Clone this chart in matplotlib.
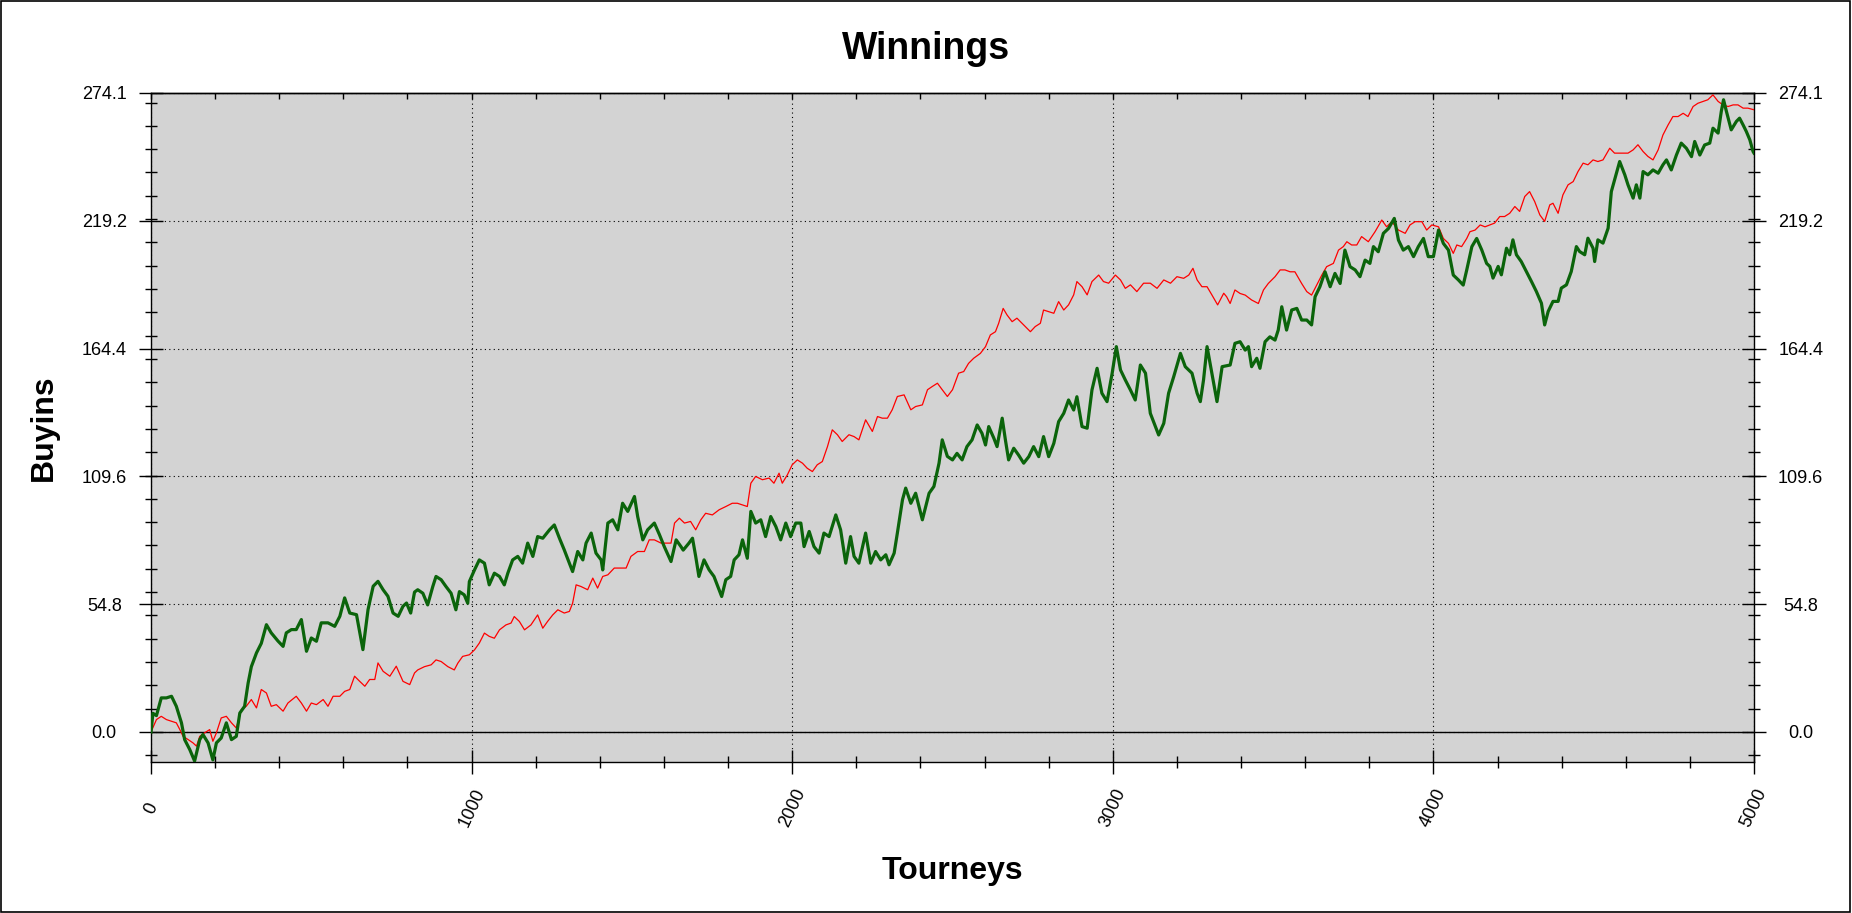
import matplotlib
matplotlib.use('Agg')
import matplotlib.pyplot as plt
from matplotlib.ticker import MultipleLocator
from matplotlib.patches import Rectangle

plt.rcParams['font.family'] = ['Liberation Sans', 'DejaVu Sans']

# ---- data ----
green_t = [0, 6, 17, 32, 48, 64, 79, 95, 105, 121, 136, 152, 162, 178, 193, 204, 219, 235, 251, 266,
           277, 292, 303, 313, 329, 344, 360, 375, 396, 412, 422, 438, 453, 469, 485, 500, 516, 531,
           552, 573, 589, 604, 620, 641, 661, 677, 693, 708, 724, 739, 755, 771, 786, 797, 810, 822,
           832, 848, 863, 879, 889, 905, 920, 936, 951, 962, 977, 988, 993, 1009, 1024, 1040, 1055,
           1071, 1087, 1102, 1113, 1128, 1144, 1159, 1175, 1191, 1206, 1222, 1243, 1258, 1274, 1289,
           1305, 1315, 1331, 1347, 1357, 1373, 1388, 1404, 1409, 1425, 1440, 1456, 1471, 1487, 1508,
           1518, 1534, 1549, 1570, 1586, 1601, 1622, 1638, 1653, 1660,
           1678, 1689, 1699, 1709, 1725, 1741, 1756, 1772, 1780, 1793, 1808, 1819, 1834, 1845, 1860,
           1871, 1886, 1902, 1917, 1933, 1949, 1964, 1980, 1995, 2011, 2027, 2037, 2053, 2068, 2084,
           2099, 2115, 2136, 2151, 2167, 2182, 2193, 2208, 2229, 2245, 2260, 2276, 2292, 2302, 2318,
           2328, 2344, 2354, 2370, 2385, 2406, 2427, 2442, 2458, 2468, 2484, 2500,
           2514, 2530, 2545, 2561, 2577, 2592, 2603, 2613, 2629, 2639, 2655, 2665, 2675, 2691, 2706,
           2722, 2738, 2753, 2769, 2784, 2800, 2816, 2831, 2847, 2862, 2878, 2888, 2904, 2920, 2935,
           2951, 2966, 2982, 2998, 3011, 3024, 3039, 3055, 3070, 3086, 3102, 3117, 3133, 3143, 3159,
           3174, 3190, 3211, 3226, 3247, 3263, 3273, 3283, 3294, 3309, 3325, 3341,
           3366, 3381, 3397, 3413, 3423, 3433, 3449, 3459, 3475, 3490, 3506, 3516, 3527, 3542, 3558,
           3574, 3589, 3605, 3620, 3631, 3646, 3662, 3678, 3693, 3709, 3724, 3740, 3756, 3771, 3787,
           3802, 3813, 3828, 3844, 3860, 3878, 3891, 3906, 3922, 3938, 3953, 3969, 3984, 4000, 4016,
           4031, 4047, 4062, 4078, 4093, 4104, 4120, 4135, 4151, 4166,
           4176, 4186, 4202, 4212, 4228, 4238, 4248, 4259, 4274, 4290, 4306, 4321, 4337, 4347, 4358,
           4373, 4389, 4399, 4415, 4430, 4446, 4456, 4472, 4482, 4498, 4503, 4513, 4529, 4545, 4555,
           4571, 4581, 4597, 4607, 4623, 4633, 4644, 4654, 4669, 4685, 4701, 4716, 4727, 4742, 4758,
           4773, 4789, 4805, 4815, 4831, 4846, 4862, 4872, 4888, 4898, 4905, 4914, 4929, 4945, 4955,
           4966, 4976, 4987, 4997, 5000]
green_v = [0, 8, 7, 14.6, 14.6, 15.3, 11, 3.9, -3.3, -7.6, -12.5, -3.3, -1.1, -4.7, -12.0, -4.7, -2.6, 3.9, -3.3, -1.9,
           8.1, 11, 21, 28, 33.9, 38, 46, 42.5, 39, 36.7, 42.5, 43.9, 43.9, 48.2, 34.6, 40.3, 38.9, 46.8,
           46.8, 45.3, 49.6, 57.5, 51, 50.3, 35.3, 52.5, 62.5, 64.6, 61, 58.2, 51, 49.6, 53.9, 55.3, 51, 60,
           61, 59.5, 54.5, 62.4, 66.7, 65.3, 62.4, 59.5, 52.4, 60.2, 58.8, 55.2, 64.5, 69.5, 73.8, 72.4, 63.1,
           68.1, 66.7, 63.1, 68.1, 73.8, 75.3, 72.4, 81, 75.3, 83.8, 83.1, 86.7, 88.8, 83.1, 78.1,
           72.4, 68.8, 77.4, 73.8, 81, 85.3, 76.7, 73.8, 69.5, 89.6, 91, 86.7, 98.1, 94.6, 101,
           92.4, 82.4, 86.7, 89.6, 84.6, 79.5, 73.1, 82.4, 79.5, 78,
           81, 83.1, 75.3, 66.7, 73.8, 69.5, 66.7, 61, 58.1, 65.3, 66.7, 73.8, 76, 82.4, 74.5,
           94.6, 89.6, 91, 83.8, 92.4, 88.1, 82.4, 89.6, 83.8, 89.6, 89.6, 79.5, 86, 79.5, 76.7,
           85.3, 83.8, 93.1, 86.7, 72.4, 83.8, 75.3, 72.4, 85.3, 72.4, 77.4, 73.8, 76, 71.7, 76.7,
           85.3, 99.6, 104.6, 98.1, 102.4, 91, 102.4, 105.3, 115.3, 125.3, 118.2, 116.7,
           119.5, 116.7, 122.4, 125.3, 131.7, 128.1, 123.1, 131, 126, 122.4, 134.6, 125.3, 116.7, 121.7, 118.8,
           115.3, 118.1, 122.4, 118.1, 126.7, 118.1, 123.8, 133.1, 136.7, 142.4, 138.1, 143.8, 131, 130.3, 146.7,
           156, 145.3, 141.7, 153.9, 165.3, 155.3, 151, 146.7, 142.4, 157.4, 153.9, 136.7, 131, 127.4, 132.4,
           145.3, 152.4, 162.4, 156.7, 153.9, 145.3, 141.7, 151, 165.3, 153.9, 141.7, 156.7,
           157.4, 166.7, 167.4, 163.8, 165.3, 156.7, 160.3, 156, 167.4, 169.5, 168.1, 172.4, 182.4, 172.4, 181,
           181.7, 176.7, 176.7, 174.6, 186.7, 191, 197.4, 191, 196.7, 192.4, 206.7, 199.6, 198.2, 195.3, 202.4,
           201, 208.2, 206, 213.9, 216, 220.3, 211, 206.7, 208.2, 203.9, 208.2, 211.7, 203.9, 203.9, 215.3,
           209.6, 206.7, 196, 193.9, 191.7, 198.2, 208.2, 211.7, 206.7, 201,
           199.7, 194.7, 199.7, 196.1, 207.5, 204.7, 211.1, 204.7, 201.8, 197.5, 193.2, 189, 183.9, 174.6, 180.4,
           184.7, 184.7, 190.4, 191.8, 197.5, 208.2, 206.1, 204.7, 211.8, 207.5, 201.8, 211.1, 209.7, 216.1, 231.8,
           239.7, 244.7, 239, 234.7, 229, 234.7, 229, 240.4, 239, 241.1, 239.7, 243.3, 245.4, 241.1, 247.5,
           252.6, 250.4, 246.8, 253.3, 247.5, 251.8, 252.6, 259, 256.9, 266.2, 271.2, 266.2, 258.3, 261.9, 263.3,
           260.4, 257.6, 254, 249, 248.3]

red_t = [0, 17, 32, 48, 64, 79, 90, 100, 116, 131, 142, 152, 167, 183, 193, 204, 219, 235, 251, 266,
         282, 297, 313, 329, 344, 360, 375, 391, 412, 427, 453, 469, 485, 500, 516, 537, 552, 568, 589,
         604, 620, 635, 651, 667, 682, 698, 708, 724, 745, 765, 786, 807, 822,
         832, 853, 874, 889, 905, 926, 946, 957, 972, 993, 1009, 1024, 1040, 1055, 1071, 1087, 1107,
         1123, 1133, 1149, 1165, 1185, 1206, 1222, 1237, 1253, 1269, 1289, 1305, 1315, 1326, 1341, 1362,
         1378, 1393, 1409, 1425, 1445, 1466, 1482, 1497, 1518, 1539, 1554, 1570, 1591, 1606, 1622, 1633,
         1648, 1664,
         1683, 1699, 1715, 1730, 1751, 1772, 1793, 1813, 1829, 1845, 1860, 1871, 1886, 1907, 1928, 1943,
         1959, 1969, 1985, 2000, 2016, 2032, 2047, 2063, 2078, 2094, 2110, 2125, 2141, 2156, 2177, 2193,
         2208, 2229, 2250, 2266, 2281, 2297, 2312, 2328, 2349, 2370, 2385, 2406, 2422, 2437, 2453, 2468,
         2484, 2500,
         2519, 2535, 2550, 2566, 2587, 2603, 2618, 2634, 2644, 2658, 2670, 2686, 2701, 2717, 2732, 2743,
         2758, 2774, 2784, 2800, 2816, 2831, 2847, 2862, 2878, 2888, 2904, 2920, 2935, 2956, 2971, 2987,
         3008, 3024, 3039, 3055, 3075, 3096, 3117, 3138, 3159, 3180, 3200, 3221, 3237, 3250, 3263, 3278,
         3294, 3309, 3327, 3346,
         3355, 3366, 3381, 3397, 3413, 3433, 3454, 3470, 3485, 3506, 3522, 3537, 3553, 3568, 3589, 3605,
         3620, 3636, 3652, 3667, 3688, 3704, 3719, 3730, 3745, 3761, 3776, 3797, 3818, 3839, 3854, 3870,
         3891, 3912, 3927, 3943, 3964, 3979, 3995, 4016, 4031, 4047, 4062, 4073, 4088, 4104, 4114, 4130,
         4146, 4161,
         4176, 4191, 4207, 4222, 4238, 4254, 4269, 4285, 4300, 4316, 4332, 4347, 4363, 4373, 4389, 4404,
         4420, 4436, 4451, 4467, 4482, 4498, 4513, 4529, 4550, 4565, 4586, 4607, 4623, 4638, 4654, 4669,
         4685, 4701, 4716, 4732, 4747, 4763, 4779, 4794, 4810, 4825, 4841, 4856, 4872, 4888, 4903, 4919,
         4935, 4950, 4966, 4981, 5000]
red_v = [0, 5.3, 6.7, 5.3, 4.6, 3.9, 1, -1.9, -3.3, -4.7, -6.1, -1.9, -0.4, 1, -4, -0.4, 6, 6.7, 3.9, 1.7,
         9.6, 11, 13.9, 10.3, 18.2, 16.7, 11, 11.7, 8.9, 12.4, 15.3, 12.4, 8.9, 12.4, 11.7, 13.9, 11, 15.3, 15.3,
         17.4, 18.2, 23.9, 21.7, 19.6, 22.5, 22.5, 29.6, 26, 23.9, 28.2, 21.7, 20.3, 25.3,
         26.6, 28, 28.8, 30.9, 30.2, 28, 26.6, 29.5, 32.4, 33.1, 35.2, 38.1, 42.4, 41, 40.2, 43.8, 45.9,
         46.7, 49.5, 47.4, 43.8, 45.9, 50.2, 44.5, 47.4, 50.2, 52.4, 51, 51.7, 55.2, 63.1, 62.4, 61,
         66, 61.7, 66.7, 67.4, 70.3, 70.3, 70.3, 75.3, 77.4, 77.4, 82.4, 82.4, 81, 81, 81, 89.6,
         91.7, 89.6,
         90.3, 86.7, 91, 93.8, 93.1, 95.3, 96.7, 98.1, 98.1, 97.4, 96.7, 106.7, 109.6, 108.2, 108.9, 106.7,
         111, 106.7, 110.3, 114.6, 116.7, 115.3, 113.1, 111.7, 114.6, 116, 122.4, 129.6, 127.5, 124.6, 127.5, 126.7,
         125.3, 133.9, 128.9, 135.3, 134.6, 134.6, 138.2, 143.9, 144.6, 138.2, 139.6, 140.3, 146.8, 148.2, 149.6, 146.8,
         143.9, 146.8,
         153.9, 154.6, 158.1, 160.3, 162.4, 165.3, 170.3, 171.7, 175.3, 181.7, 178.9, 176, 177.5, 175.3, 173.2, 171.7,
         173.9, 175.3, 181, 180.3, 179.6, 184.6, 181, 183.2, 187.5, 193.2, 191, 187.5, 193.2, 196, 193.2, 192.5,
         196, 193.9, 190.3, 191.8, 188.9, 192.5, 192.5, 190.3, 193.9, 192.5, 195.3, 194.6, 196, 198.9, 193.9, 191,
         191, 187.5, 183.2, 188.2,
         186.7, 183.8, 189.6, 188.1, 187.4, 185.3, 183.8, 189.6, 192.4, 195.3, 198.2, 198.2, 197.4, 197.4, 192.4, 188.9,
         187.4, 191.7, 196, 199.6, 201, 206.7, 208.2, 210.3, 208.9, 208.9, 212.5, 210.3, 214.6, 219.6, 216.7, 218.9,
         215.3, 213.9, 217.5, 218.9, 218.9, 215.3, 217.5, 216.7, 211.7, 209.6, 205.3, 208.9, 208.2, 211.7, 214.6, 215.3,
         217.5, 216.7,
         217.5, 218.3, 221.1, 221.1, 222.5, 225.4, 223.3, 229.7, 231.8, 227.5, 221.8, 219, 226.1, 226.8, 222.5, 230.4,
         234.7, 236.1, 240.4, 244, 243.3, 245.4, 244.7, 245.4, 250.4, 248.3, 248.3, 248.3, 249.7, 251.9, 249, 246.9,
         245.4, 249.7, 256.1, 260.4, 264, 264, 265.4, 264, 268.3, 269.7, 270.5, 271.2, 273.3, 270.5, 269, 268.3,
         269, 269, 267.6, 267.6, 266.9]

y_ticks = [0.0, 54.8, 109.6, 164.4, 219.2, 274.1]
y_tick_labels = ['0.0', '54.8', '109.6', '164.4', '219.2', '274.1']
x_ticks = [0, 1000, 2000, 3000, 4000, 5000]
x_tick_labels = ['0', '1000', '2000', '3000', '4000', '5000']

title = 'Winnings'
x_label = 'Tourneys'
y_label = 'Buyins'

# ---- figure ----
W, H = 1852, 913
fig = plt.figure(figsize=(W / 100, H / 100), dpi=100)
ax = fig.add_axes([151 / W, 1 - 762 / H, (1754 - 151) / W, (762 - 93) / H])
ax.set_facecolor('#d3d3d3')

ax.plot(red_t, red_v, color='#ff0000', lw=0.9, zorder=3)
ax.plot(green_t, green_v, color='#0b640b', lw=2.3, zorder=4, solid_joinstyle='round')
ax.axhline(0, color='black', lw=1.0, zorder=2)

ax.set_xlim(0, 5000)
ax.set_ylim(-12.9, 274.1)
ax.set_xticks(x_ticks, x_tick_labels)
ax.set_yticks(y_ticks, y_tick_labels)
ax.xaxis.set_minor_locator(MultipleLocator(200))
ax.yaxis.set_minor_locator(MultipleLocator(10))

ax.grid(True, which='major', color='black', linestyle=(0, (1, 3)), lw=0.8, zorder=1)

for s in ax.spines.values():
    s.set_linewidth(1.0)
    s.set_color('black')

ax.tick_params(axis='both', which='major', direction='inout', length=17.3, width=1.0,
               labelsize=13, colors='black')
ax.tick_params(axis='both', which='minor', direction='inout', length=8.6, width=1.0)
ax.tick_params(axis='y', which='both', left=True, right=True, labelleft=True, labelright=True)
ax.tick_params(axis='y', which='major', pad=25)
ax.tick_params(axis='x', which='both', bottom=True, top=False)
ax.tick_params(axis='x', which='major', pad=24.5)

for tk in ax.yaxis.get_major_ticks():
    tk.label1.set_horizontalalignment('center')
    tk.label2.set_horizontalalignment('center')
for lbl in ax.get_xticklabels():
    lbl.set_rotation(65)
    lbl.set_horizontalalignment('center')
    lbl.set_verticalalignment('center')
    lbl.set_rotation_mode('anchor')

sec = ax.secondary_xaxis('top')
sec.set_xticks([])
sec.xaxis.set_minor_locator(MultipleLocator(200))
sec.tick_params(which='both', direction='in', length=4.3, width=1.0, labeltop=False)
sec.spines['top'].set_linewidth(1.0)

fig.text(0.5, 1 - 59 / H, title, ha='center', va='baseline', fontsize=27, fontweight='bold')
fig.text(952.5 / W, 1 - 879 / H, x_label, ha='center', va='baseline', fontsize=23, fontweight='bold')
fig.text(44 / W, 1 - 428 / H, y_label, ha='center', va='center', rotation=90,
         fontsize=23, fontweight='bold')

fig.patches.append(Rectangle((1 / W, 1 / H), (1850 - 1) / W, (912 - 1) / H,
                             transform=fig.transFigure, fill=False, ec='black', lw=1.2))

fig.savefig('out.png', dpi=100)
